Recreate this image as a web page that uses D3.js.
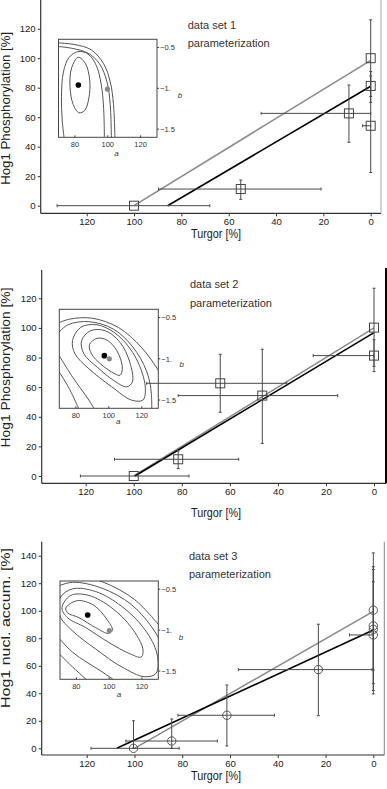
<!DOCTYPE html>
<html><head><meta charset="utf-8">
<script src="https://cdn.jsdelivr.net/npm/d3@7/dist/d3.min.js"></script>
<style>body{margin:0;background:#fff}svg{display:block}text{font-family:"Liberation Sans",Arial,sans-serif}</style>
</head><body>
<script>
// ---------- tick labels ----------
const turgorTicks = [120, 100, 80, 60, 40, 20, 0];
const phosTicks = [0, 20, 40, 60, 80, 100, 120];
const nuclTicks = [0, 20, 40, 60, 80, 100, 120, 140];
const insetATicks = [80, 100, 120];
const insetBTicks = [-0.5, -1, -1.5];
const insetBTickLabels = ["\u22120.5", "\u22121.", "\u22121.5"];

// ---------- data set 1 (Hog1 phosphorylation) ----------
const ds1Turgor     = [100, 54.9, 9.2, 0, 0, 0];
const ds1Value      = [0, 11.3, 62.6, 100, 81.2, 54.2];
const ds1TurgorFrom = [132.5, 89.7, 46.3, 0, 0, 3.4];
const ds1TurgorTo   = [68, 21, 0, 0, 0, 0];
const ds1ValueFrom  = [0, 4.3, 43, 74, 70, 22.5];
const ds1ValueTo    = [0, 17.4, 81.8, 126, 91, 88];
const ds1FitGray    = [[100, 0], [0, 98.6]];
const ds1FitBlack   = [[85.8, 0], [0, 81]];
const ds1Best = [82.1, -0.96];
const ds1Ref  = [99.8, -1.01];
const ds1Contours = [
  [[82,-0.62],[86.5,-0.7],[89,-0.9],[88.5,-1.12],[86,-1.27],[82.5,-1.3],[79,-1.2],[77,-0.98],[78,-0.75]],
  [[74,-1.7],[72.3,-1.4],[71.8,-1.1],[73,-0.8],[76.5,-0.62],[82,-0.55],[88,-0.58],[93,-0.72],[96,-0.95],[97.5,-1.25],[98,-1.7]],
  [[66,-0.48],[78,-0.51],[88,-0.57],[95,-0.7],[99.5,-0.92],[101.5,-1.2],[102.3,-1.7]],
  [[66,-0.44],[80,-0.465],[90,-0.53],[97.5,-0.7],[101.5,-0.92],[103.5,-1.2],[104.5,-1.7]]
];
const ds1Closed = [true, false, false, false];

// ---------- data set 2 (Hog1 phosphorylation) ----------
const ds2Turgor     = [100, 81.5, 64, 46.5, 0, 0];
const ds2Value      = [0, 11.3, 62.6, 54.3, 100.2, 81.3];
const ds2TurgorFrom = [122.2, 108, 94.6, 81.5, 0, 25.3];
const ds2TurgorTo   = [77, 56.3, 36.3, 15.1, 0, 0];
const ds2ValueFrom  = [0, 5, 43, 22, 74, 70.5];
const ds2ValueTo    = [0, 17, 82.2, 85.6, 126.8, 92];
const ds2FitGray    = [[100, 0], [0, 100]];
const ds2FitBlack   = [[99.5, 0], [0, 96.8]];
const ds2Best = [97.3, -0.962];
const ds2Ref  = [100.3, -1.0];
const ds2Contours = [
  [[88.3,-0.828],[92.9,-0.752],[98.8,-0.772],[104.8,-0.9],[108.2,-1.1],[106.8,-1.2],[101.8,-1.16],[94.9,-1.06],[89.5,-0.94]],
  [[83.5,-0.78],[88.9,-0.66],[97.8,-0.66],[106.8,-0.8],[112.7,-1.04],[114.3,-1.28],[110.8,-1.34],[102.8,-1.26],[92.9,-1.1],[84.9,-0.94]],
  [[78,-0.78],[82.9,-0.62],[92.9,-0.588],[105.8,-0.72],[116.7,-1.0],[122.1,-1.34],[120.7,-1.5],[113.7,-1.5],[101.8,-1.34],[87.9,-1.12],[79.5,-0.94]],
  [[68,-0.72],[75,-0.59],[87.9,-0.55],[102.8,-0.64],[114.7,-0.86],[122.7,-1.14],[125.6,-1.38],[126,-1.7]],
  [[68,-0.9],[78,-1.22],[87.9,-1.5],[93.9,-1.7]],
  [[68,-0.58],[76,-0.52],[89.9,-0.508],[105.8,-0.62],[119.7,-0.86],[130,-1.14],[133.6,-1.28]],
  [[68,-1.1],[76,-1.36],[83.9,-1.7]]
];
const ds2Closed = [true, true, true, false, false, false, false];

// ---------- data set 3 (Hog1 nuclear accumulation) ----------
const ds3Turgor     = [100.4, 84.4, 61.3, 23, 0, 0, 0, 0];
const ds3Value      = [0, 5.3, 24, 57.2, 100.4, 89, 86.5, 82.4];
const ds3TurgorFrom = [118.2, 103.6, 81.8, 56.5, 0, 0, 0, 10];
const ds3TurgorTo   = [81.3, 65.3, 41.4, 0.5, 0, 0, 0, 0];
const ds3ValueFrom  = [0, 0, 1.7, 23.7, 57, 47, 42, 39.5];
const ds3ValueTo    = [20, 21.3, 46, 90.2, 142, 132, 130, 121];
const ds3FitGray    = [[100, 0], [0, 99.5]];
const ds3FitBlack   = [[107.4, 0], [0, 86]];
const ds3Best = [86.9, -0.815];
const ds3Ref  = [100.1, -1.005];
const ds3Contours = [
  [[73.6,-0.728],[80.6,-0.64],[90.6,-0.696],[98.6,-0.868],[102,-1.0],[99.6,-1.04],[91.6,-0.968],[81.6,-0.848],[74.6,-0.788]],
  [[71.2,-0.728],[76.6,-0.576],[87.6,-0.576],[101.6,-0.728],[113.6,-0.968],[120.6,-1.228],[119.6,-1.328],[112.6,-1.288],[99.6,-1.148],[85.6,-0.968],[74.6,-0.848]],
  [[70,-0.608],[77.6,-0.496],[91.6,-0.528],[107.6,-0.708],[121.6,-0.988],[129.2,-1.288],[128.6,-1.528],[121.6,-1.568],[107.6,-1.448],[91.6,-1.228],[77.6,-1.008],[70,-0.828]],
  [[65.6,-0.488],[77.6,-0.416],[95.6,-0.488],[113.6,-0.688],[127.6,-1.008],[133.6,-1.248]],
  [[65.6,-1.008],[77.6,-1.268],[95.6,-1.508],[109.6,-1.7]],
  [[73.6,-0.308],[95.6,-0.408],[115.6,-0.628],[131.6,-0.968]],
  [[65.6,-1.208],[77.6,-1.448],[91.6,-1.7]]
];
const ds3Closed = [true, true, true, false, false, false, false];

// ---------- drawing ----------
const svg = d3.select("body").append("svg").attr("width", 387).attr("height", 789);
const AX = "#333";

function drawPanel(p) {
  const g = svg.append("g");
  const x = d3.scaleLinear().domain([120, 0]).range([p.x120, p.x0]);
  const y = d3.scaleLinear().domain([0, p.yRef]).range([p.y0, p.yRefPx]);

  // frame lines
  g.append("line").attr("x1", p.left).attr("x2", p.left).attr("y1", p.top).attr("y2", p.bottom)
    .attr("stroke", AX).attr("stroke-width", 1.2);
  g.append("line").attr("x1", p.left).attr("x2", p.right).attr("y1", p.bottom).attr("y2", p.bottom)
    .attr("stroke", AX).attr("stroke-width", 1.2);
  g.append("line").attr("x1", p.right).attr("x2", p.right).attr("y1", p.rightTop).attr("y2", p.bottom)
    .attr("stroke", p.rightColor).attr("stroke-width", p.rightWidth);

  const xa = g.append("g").attr("transform", `translate(0,${p.bottom})`)
    .call(d3.axisBottom(x).tickValues(turgorTicks).tickSize(3).tickSizeOuter(0).tickPadding(p.xPad));
  xa.select(".domain").remove();
  const ya = g.append("g").attr("transform", `translate(${p.left},0)`)
    .call(d3.axisLeft(y).tickValues(p.yTicks).tickSize(3).tickSizeOuter(0).tickPadding(2));
  ya.select(".domain").remove();
  g.selectAll(".tick line").attr("stroke", AX);
  g.selectAll(".tick text").attr("fill", "#222").style("font-size", "9.6px")
    .style("font-family", '"Liberation Sans",Arial,sans-serif');

  // axis titles
  g.append("text").attr("x", 216).attr("y", p.xTitleY).attr("text-anchor", "middle")
    .attr("fill", "#222").style("font-size", "12px").attr("textLength", 50).attr("lengthAdjust", "spacingAndGlyphs")
    .text("Turgor [%]");
  g.append("text").attr("transform", `translate(9.5,${p.yTitleC}) rotate(-90)`).attr("text-anchor", "middle")
    .attr("fill", "#222").style("font-size", "12px").attr("textLength", p.yTitleLen).attr("lengthAdjust", "spacingAndGlyphs")
    .text(p.yTitle);

  // labels
  g.append("text").attr("x", p.labelX).attr("y", p.labelY).attr("fill", "#333").style("font-size", "11px").text(p.label);
  g.append("text").attr("x", p.labelX).attr("y", p.labelY + 18.3).attr("fill", "#333").style("font-size", "11px").text("parameterization");

  // ---------- inset ----------
  const ins = p.inset;
  const ia = d3.scaleLinear().domain([70, 130]).range([ins.x, ins.x + ins.w]);
  const ib = d3.scaleLinear().domain([-1.6, -0.4]).range([ins.y + ins.h, ins.y]);
  const clipId = "clip" + p.id;
  g.append("clipPath").attr("id", clipId).append("rect")
    .attr("x", ins.x).attr("y", ins.y).attr("width", ins.w).attr("height", ins.h);
  g.append("rect").attr("x", ins.x).attr("y", ins.y).attr("width", ins.w).attr("height", ins.h).attr("fill", "#fff");
  const cg = g.append("g").attr("clip-path", `url(#${clipId})`);
  p.contours.forEach((c, i) => {
    const line = d3.line().x(d => ia(d[0])).y(d => ib(d[1]))
      .curve(p.closed[i] ? d3.curveCatmullRomClosed.alpha(0.5) : d3.curveCatmullRom.alpha(0.5));
    cg.append("path").attr("d", line(c)).attr("fill", "none").attr("stroke", "#555").attr("stroke-width", 1);
  });
  cg.append("circle").attr("cx", ia(p.ref[0])).attr("cy", ib(p.ref[1])).attr("r", 2.6).attr("fill", "#888");
  cg.append("circle").attr("cx", ia(p.best[0])).attr("cy", ib(p.best[1])).attr("r", 2.8).attr("fill", "#000");
  g.append("rect").attr("x", ins.x).attr("y", ins.y).attr("width", ins.w).attr("height", ins.h)
    .attr("fill", "none").attr("stroke", "#444").attr("stroke-width", 1);
  insetBTicks.forEach((b, i) => {
    g.append("line").attr("x1", ins.x + ins.w).attr("x2", ins.x + ins.w + 2).attr("y1", ib(b)).attr("y2", ib(b)).attr("stroke", "#444");
    g.append("text").attr("x", ins.x + ins.w + 3).attr("y", ib(b) + 2.7).attr("fill", "#333")
      .style("font-size", "7.5px").text(insetBTickLabels[i]);
  });
  insetATicks.forEach(a => {
    g.append("line").attr("x1", ia(a)).attr("x2", ia(a)).attr("y1", ins.y + ins.h).attr("y2", ins.y + ins.h - 2).attr("stroke", "#444");
    g.append("text").attr("x", ia(a)).attr("y", ins.y + ins.h + 10).attr("text-anchor", "middle").attr("fill", "#333")
      .style("font-size", "7.5px").text(a);
  });
  g.append("text").attr("x", ins.aX).attr("y", ins.aY).attr("text-anchor", "middle").attr("fill", "#333")
    .style("font-size", "8px").style("font-style", "italic").text("a");
  g.append("text").attr("x", ins.bX).attr("y", ins.bY).attr("text-anchor", "middle").attr("fill", "#333")
    .style("font-size", "8px").style("font-style", "italic").text("b");

  // ---------- fit lines ----------
  const fl = d3.line().x(d => x(d[0])).y(d => y(d[1]));
  g.append("path").attr("d", fl(p.fitGray)).attr("fill", "none").attr("stroke", "#8a8a8a").attr("stroke-width", 1.5);
  g.append("path").attr("d", fl(p.fitBlack)).attr("fill", "none").attr("stroke", "#000").attr("stroke-width", 1.6);

  // ---------- error bars ----------
  const eb = "#4a4a4a";
  p.t.forEach((t, i) => {
    const cx = x(t), cy = y(p.v[i]);
    const x1 = x(p.tFrom[i]), x2 = x(p.tTo[i]);
    if (Math.abs(x2 - x1) > 0.5) {
      g.append("line").attr("x1", x1).attr("x2", x2).attr("y1", cy).attr("y2", cy).attr("stroke", eb).attr("stroke-width", 1);
      [x1, x2].forEach(xx => g.append("line").attr("x1", xx).attr("x2", xx).attr("y1", cy - 1.5).attr("y2", cy + 1.5).attr("stroke", eb));
    }
    const y1 = y(p.vFrom[i]), y2 = y(p.vTo[i]);
    if (Math.abs(y2 - y1) > 0.5) {
      g.append("line").attr("x1", cx).attr("x2", cx).attr("y1", y1).attr("y2", y2).attr("stroke", eb).attr("stroke-width", 1);
      [y1, y2].forEach(yy => g.append("line").attr("x1", cx - 1.5).attr("x2", cx + 1.5).attr("y1", yy).attr("y2", yy).attr("stroke", eb));
    }
  });
  // markers
  p.t.forEach((t, i) => {
    const cx = x(t), cy = y(p.v[i]);
    if (p.marker === "square") {
      g.append("rect").attr("x", cx - 4.5).attr("y", cy - 4.5).attr("width", 9).attr("height", 9)
        .attr("fill", "none").attr("stroke", "#444").attr("stroke-width", 1);
    } else {
      g.append("circle").attr("cx", cx).attr("cy", cy).attr("r", 4.2)
        .attr("fill", "none").attr("stroke", "#555").attr("stroke-width", 1);
    }
  });
}

drawPanel({
  id: 1, left: 40.7, right: 381, top: 0, rightTop: 0, bottom: 213.3, rightColor: "#aaa", rightWidth: 1,
  x120: 86.7, x0: 370.7, yRef: 120, y0: 205.7, yRefPx: 28.7, yTicks: phosTicks, xPad: 2,
  xTitleY: 237.5, yTitleC: 108.3, yTitleLen: 153, yTitle: "Hog1 Phosphorylation [%]",
  label: "data set 1", labelX: 187.7, labelY: 29,
  inset: {x: 58.5, y: 39.3, w: 98.5, h: 98, aX: 116.5, aY: 156, bX: 180, bY: 98},
  contours: ds1Contours, closed: ds1Closed, best: ds1Best, ref: ds1Ref,
  t: ds1Turgor, v: ds1Value, tFrom: ds1TurgorFrom, tTo: ds1TurgorTo, vFrom: ds1ValueFrom, vTo: ds1ValueTo,
  fitGray: ds1FitGray, fitBlack: ds1FitBlack, marker: "square"
});
drawPanel({
  id: 2, left: 41.7, right: 386, top: 270, rightTop: 268, bottom: 483.3, rightColor: "#000", rightWidth: 2,
  x120: 85.7, x0: 374, yRef: 120, y0: 476, yRefPx: 298.3, yTicks: phosTicks, xPad: 1.5,
  xTitleY: 516.5, yTitleC: 367.5, yTitleLen: 160, yTitle: "Hog1 Phosphorylation [%]",
  label: "data set 2", labelX: 190, labelY: 288.3,
  inset: {x: 59.3, y: 309.3, w: 99, h: 99, aX: 118.3, aY: 423.5, bX: 181.7, bY: 367},
  contours: ds2Contours, closed: ds2Closed, best: ds2Best, ref: ds2Ref,
  t: ds2Turgor, v: ds2Value, tFrom: ds2TurgorFrom, tTo: ds2TurgorTo, vFrom: ds2ValueFrom, vTo: ds2ValueTo,
  fitGray: ds2FitGray, fitBlack: ds2FitBlack, marker: "square"
});
drawPanel({
  id: 3, left: 41.7, right: 384.3, top: 541.7, rightTop: 541.7, bottom: 755, rightColor: "#888", rightWidth: 1,
  x120: 86.7, x0: 373.3, yRef: 140, y0: 748.3, yRefPx: 555.7, yTicks: nuclTicks, xPad: 2,
  xTitleY: 780, yTitleC: 628, yTitleLen: 160, yTitle: "Hog1 nucl. accum. [%]",
  label: "data set 3", labelX: 189, labelY: 560,
  inset: {x: 60, y: 581, w: 98.3, h: 98.3, aX: 119, aY: 696.5, bX: 181, bY: 640},
  contours: ds3Contours, closed: ds3Closed, best: ds3Best, ref: ds3Ref,
  t: ds3Turgor, v: ds3Value, tFrom: ds3TurgorFrom, tTo: ds3TurgorTo, vFrom: ds3ValueFrom, vTo: ds3ValueTo,
  fitGray: ds3FitGray, fitBlack: ds3FitBlack, marker: "circle"
});
</script>
</body></html>
